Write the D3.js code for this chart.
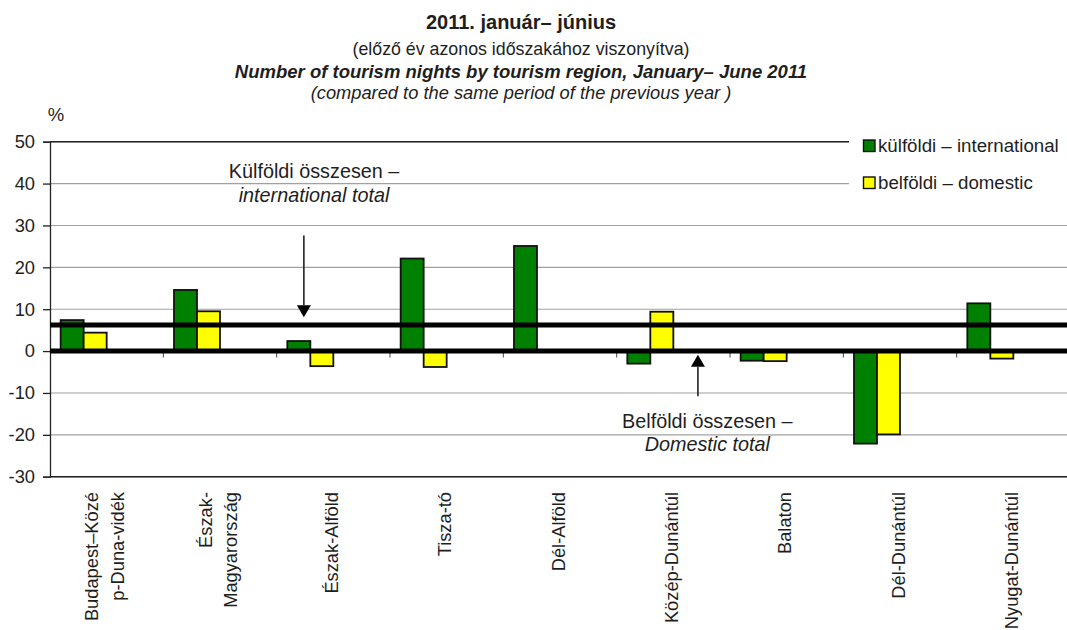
<!DOCTYPE html>
<html><head><meta charset="utf-8">
<script src="https://cdn.jsdelivr.net/npm/d3@7"></script>
<style>
body{margin:0;background:#fff}
svg{display:block}
text{font-family:"Liberation Sans",Arial,Helvetica,sans-serif;fill:#1e1e1e}
</style>
</head><body>
<svg id="chart" width="1067" height="630"></svg>
<script>
// ---- data ----
const categories = ["Budapest–Közép-Duna-vidék","Észak-Magyarország","Észak-Alföld","Tisza-tó","Dél-Alföld","Közép-Dunántúl","Balaton","Dél-Dunántúl","Nyugat-Dunántúl"];
const categoryLabelLines = [["Budapest–Közé","p-Duna-vidék"],["Észak-","Magyarország"],["Észak-Alföld"],["Tisza-tó"],["Dél-Alföld"],["Közép-Dunántúl"],["Balaton"],["Dél-Dunántúl"],["Nyugat-Dunántúl"]];
const seriesKeys = ["international","domestic"];
const seriesLabels = ["külföldi – international","belföldi – domestic"];
const seriesColors = ["#008000","#ffff00"];
const international = [7.4, 14.6, 2.4, 22.1, 25.1, -3.0, -2.3, -22.1, 11.4];
const domestic = [4.4, 9.5, -3.6, -3.8, 0, 9.4, -2.4, -19.9, -1.8];
const totalValues = [6.2, 0];   // international total, domestic total
const yTicks = [-30, -20, -10, 0, 10, 20, 30, 40, 50];
const yTickLabels = ["-30","-20","-10","0","10","20","30","40","50"];
const titleLines = ["2011. január– június","(előző év azonos időszakához viszonyítva)","Number of tourism nights by tourism region, January– June 2011","(compared to the same period of the previous year )"];
const annotations = [
  {lines:["Külföldi összesen –","international  total"], cat:"Észak-Alföld", textPos:0.33, textVals:[41.4, 35.5], arrowPos:0.24, arrowFrom:27.6, arrowTo:8.1},
  {lines:["Belföldi összesen –","Domestic total"], cat:"Közép-Dunántúl", textPos:0.80, textVals:[-18.3, -23.8], arrowPos:0.717, arrowFrom:-10.8, arrowTo:-0.9}
];

// ---- layout ----
const svg = d3.select("#chart");
const plotLeft = 50, plotRight = 1070, plotTop = 141.7, plotBottom = 476.7;
const x = d3.scaleBand().domain(categories).range([plotLeft, plotRight]).padding(0);
const bw = x.bandwidth();
const xs = d3.scaleBand().domain(seriesKeys).range([bw*0.094, bw*0.5]).padding(0);
const y = d3.scaleLinear().domain([-30, 50]).range([plotBottom, plotTop]);

svg.append("rect").attr("width",1067).attr("height",630).attr("fill","#fff");

// titles
const titleY = [29, 54.5, 78, 99];
const titleStyle = [
  {size:20, weight:"bold", style:"normal"},
  {size:17.8, weight:"normal", style:"normal"},
  {size:18.5, weight:"bold", style:"italic"},
  {size:18.3, weight:"normal", style:"italic"}
];
titleLines.forEach((t,i)=>{
  svg.append("text").attr("x",521).attr("y",titleY[i]).attr("text-anchor","middle")
    .style("font-size",titleStyle[i].size+"px").style("font-weight",titleStyle[i].weight)
    .style("font-style",titleStyle[i].style).text(t);
});

// gridlines
svg.append("g").selectAll("line").data(yTicks).join("line")
  .attr("x1",plotLeft).attr("x2",plotRight).attr("y1",d=>y(d)).attr("y2",d=>y(d))
  .attr("stroke","#a0a0a0").attr("stroke-width",1.1);
// plot frame top & bottom
svg.append("line").attr("x1",plotLeft).attr("x2",plotRight).attr("y1",y(50)).attr("y2",y(50)).attr("stroke","#222").attr("stroke-width",1.4);
svg.append("line").attr("x1",plotLeft).attr("x2",plotRight).attr("y1",y(-30)).attr("y2",y(-30)).attr("stroke","#222").attr("stroke-width",1.4);

// legend (white box covers gridlines)
const lg = svg.append("g");
lg.append("rect").attr("x",849).attr("y",128).attr("width",220).attr("height",70).attr("fill","#fff");
seriesLabels.forEach((s,i)=>{
  const yy = 140 + i*37;
  lg.append("rect").attr("x",863.5).attr("y",yy).attr("width",11.5).attr("height",11.5)
    .attr("fill",seriesColors[i]).attr("stroke","#111").attr("stroke-width",1.4);
  lg.append("text").attr("x",878).attr("y",yy+12).style("font-size","18.7px").text(s);
});

// y axis
const yAxis = svg.append("g").attr("transform",`translate(${plotLeft},0)`)
  .call(d3.axisLeft(y).tickValues(yTicks).tickSize(7).tickPadding(8).tickFormat((d,i)=>yTickLabels[i]));
yAxis.select(".domain").attr("stroke","#222").attr("stroke-width",1.3);
yAxis.selectAll(".tick line").attr("stroke","#222").attr("stroke-width",1.3);
yAxis.selectAll(".tick text").style("font-size","18.3px").style("font-family","'Liberation Sans',Arial,sans-serif").attr("fill","#1e1e1e");
svg.append("text").attr("x",56).attr("y",121).attr("text-anchor","middle").style("font-size","18.5px").text("%");

// x category ticks below zero line
svg.append("g").selectAll("line").data(categories.slice(1)).join("line")
  .attr("x1",d=>x(d)).attr("x2",d=>x(d)).attr("y1",y(0)).attr("y2",y(0)+6.5)
  .attr("stroke","#555").attr("stroke-width",1.1);

// bars
const rows = categories.map((c,i)=>({cat:c, international:international[i], domestic:domestic[i]}));
const groups = svg.append("g").selectAll("g").data(rows).join("g")
  .attr("transform",d=>`translate(${x(d.cat)},0)`);
groups.selectAll("rect").data(d=>seriesKeys.map((k,j)=>({key:k, v:d[k], color:seriesColors[j]})))
  .join("rect")
  .attr("x",d=>xs(d.key)).attr("width",xs.bandwidth())
  .attr("y",d=>y(Math.max(0,d.v))).attr("height",d=>Math.abs(y(d.v)-y(0)))
  .attr("fill",d=>d.color).attr("stroke","#111").attr("stroke-width",1.8)
  .attr("display",d=>d.v===0?"none":null);

// total lines (thick)
svg.append("g").selectAll("line").data(totalValues).join("line")
  .attr("x1",plotLeft).attr("x2",plotRight).attr("y1",d=>y(d)).attr("y2",d=>y(d))
  .attr("stroke","#000").attr("stroke-width",5);

// annotations
annotations.forEach(a=>{
  const tx = x(a.cat) + a.textPos*bw;
  a.lines.forEach((l,i)=>{
    svg.append("text").attr("x",tx).attr("y",y(a.textVals[i])).attr("text-anchor","middle")
      .style("font-size","19.8px").style("font-style", i===1?"italic":"normal").attr("fill","#2a2a2a").text(l);
  });
  const ax = x(a.cat) + a.arrowPos*bw;
  const y1 = y(a.arrowFrom), y2 = y(a.arrowTo);
  const dir = y2 > y1 ? 1 : -1;
  const headLen = 12, headW = 7;
  svg.append("line").attr("x1",ax).attr("x2",ax).attr("y1",y1).attr("y2",y2 - dir*headLen)
    .attr("stroke","#222").attr("stroke-width",1.6);
  svg.append("path").attr("d",`M${ax-headW},${y2-dir*headLen} L${ax+headW},${y2-dir*headLen} L${ax},${y2} Z`).attr("fill","#000");
});

// x labels (rotated)
categories.forEach((c,i)=>{
  const lines = categoryLabelLines[i];
  const n = lines.length;
  const g = svg.append("g").attr("transform",`translate(${x(c)+bw/2},492) rotate(-90)`);
  lines.forEach((l,k)=>{
    g.append("text").attr("x",0).attr("y",4.5 + (k-(n-1)/2)*25.5).attr("text-anchor","end")
      .style("font-size","18.3px").text(l);
  });
});
</script>
</body></html>
